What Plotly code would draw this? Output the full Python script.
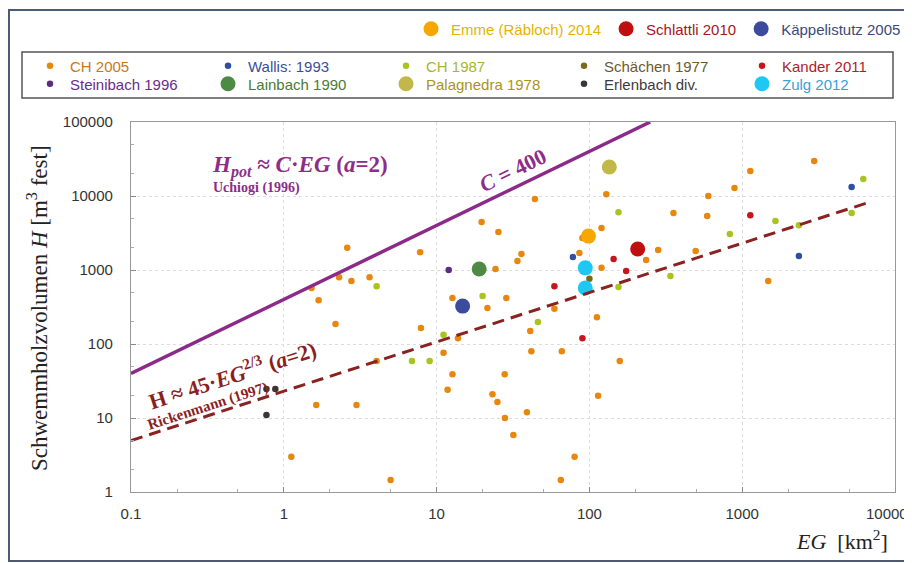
import numpy as np
import plotly.graph_objects as go

# ---------------- data ----------------
ch2005_eg = [2.6, 2.3, 2.77, 3.64, 1.52, 1.69, 129, 44, 19.7, 25.4, 7.8, 35.9, 33.8, 90, 120, 86,
             120, 24.3, 12.7, 28.6, 21.5, 59, 41, 112, 235, 282, 355, 496, 590, 600, 890, 1130,
             1480, 2960, 2.18, 4.05, 1.63, 2.99, 1.12, 5.0, 7.9, 13.8, 11.1, 41.7, 66, 158,
             12.7, 27.9, 11.8, 23.2, 25, 28, 39, 31.8, 114, 80, 65]
ch2005_h = [2000, 800, 710, 800, 570, 390, 10600, 9100, 4450, 3250, 1740, 1650, 1320, 2700, 3700, 1700,
            1070, 1030, 420, 420, 307, 300, 150, 230, 1370, 1860, 5900, 1810, 5370, 10000, 12800, 21800,
            710, 29700, 186, 59, 15, 15, 3, 1.45, 164, 120, 76, 80, 80, 59,
            39, 39, 24, 21, 16.5, 10, 12, 5.9, 20, 3, 1.45]

wallis_eg = [78, 2350, 5200]
wallis_h = [1500, 1540, 13200]

ch1987_eg = [4.05, 155, 20, 46, 155, 339, 830, 1650, 2350, 6200, 5200, 11.1, 6.9, 9.0]
ch1987_h = [605, 6050, 445, 199, 590, 830, 3070, 4590, 4040, 17000, 5900, 133, 59, 59]

schaechen_eg = [100]
schaechen_h = [760]

kander_eg = [144, 174, 59, 90, 1130]
kander_h = [1410, 970, 605, 120, 5500]

steinibach_eg = [12]
steinibach_h = [1000]

lainbach_eg = [19]
lainbach_h = [1030]

palagnedra_eg = [135]
palagnedra_h = [24600]

erlenbach_eg = [0.77, 0.88, 0.77]
erlenbach_h = [24.6, 24.6, 11]

zulg_eg = [94, 94]
zulg_h = [1070, 570]

emme_eg = [98.6]
emme_h = [2870]

schlattli_eg = [207]
schlattli_h = [1920]

kaeppeli_eg = [14.8]
kaeppeli_h = [325]

# reference relations
C_uchiogi = 400          # H = C * EG
k_ricken = 23            # dashed line as drawn: H = k * EG^(2/3)
eg_line = [0.1, 250]
eg_dash = [0.1, 6600]

x_ticks = [0.1, 1, 10, 100, 1000, 10000]
x_ticktext = ["0.1", "1", "10", "100", "1000", ""]   # last label drawn as an annotation (edge)
x_last_label = "10000"
y_ticks = [1, 10, 100, 1000, 10000, 100000]
y_ticktext = ["1", "10", "100", "1000", "10000", "100000"]

# ---------------- figure ----------------
fig = go.Figure()

SMALL = 6.5
BIG = 15

series = [
    # name, x, y, marker colour, text colour, size, legend
    ("CH 2005", ch2005_eg, ch2005_h, "#E8870E", "#C8781A", SMALL, "legend2"),
    ("Wallis: 1993", wallis_eg, wallis_h, "#2F4FA0", "#3A4F9A", SMALL, "legend2"),
    ("CH 1987", ch1987_eg, ch1987_h, "#A9C31F", "#A4B82A", SMALL, "legend2"),
    ("Schächen 1977", schaechen_eg, schaechen_h, "#7B6A1E", "#6B5A30", SMALL, "legend2"),
    ("Kander 2011", kander_eg, kander_h, "#C4161C", "#B0202A", SMALL, "legend2"),
    ("Steinibach 1996", steinibach_eg, steinibach_h, "#5B2C83", "#6A2E86", SMALL, "legend3"),
    ("Lainbach 1990", lainbach_eg, lainbach_h, "#4E8A45", "#4A7A3A", BIG, "legend3"),
    ("Palagnedra 1978", palagnedra_eg, palagnedra_h, "#C2B84A", "#A89420", BIG, "legend3"),
    ("Erlenbach div.", erlenbach_eg, erlenbach_h, "#3B3535", "#3E3A3A", SMALL, "legend3"),
    ("Zulg 2012", zulg_eg, zulg_h, "#1EC8F2", "#3AA0D8", BIG, "legend3"),
    ("Emme (Räbloch) 2014", emme_eg, emme_h, "#F6A800", "#E2B400", BIG, "legend"),
    ("Schlattli 2010", schlattli_eg, schlattli_h, "#C00F0F", "#A8141C", BIG, "legend"),
    ("Käppelistutz 2005", kaeppeli_eg, kaeppeli_h, "#3D4B9E", "#3C4A78", BIG, "legend"),
]

for name, xs, ys, mcol, tcol, size, leg in series:
    fig.add_trace(go.Scatter(
        x=xs, y=ys, mode="markers",
        name=f'<span style="color:{tcol}">{name}</span>',
        marker=dict(color=mcol, size=size, line=dict(width=0)),
        legend=leg,
    ))

xl = np.array(eg_line)
fig.add_trace(go.Scatter(x=xl, y=C_uchiogi * xl, mode="lines",
                         line=dict(color="#8B2A88", width=3.5), showlegend=False))
xd = np.array(eg_dash)
fig.add_trace(go.Scatter(x=xd, y=k_ricken * xd ** (2 / 3), mode="lines",
                         line=dict(color="#8B2222", width=3, dash="12px,7px"), showlegend=False))

# the page adds an 8 px body margin, so the figure is 8 px smaller and
# positions below are given in screen pixels of the 912x563 window
OFF = 8
W, H = 912 - OFF, 563 - OFF
L, R, T, B = 131 - OFF, 17, 122 - OFF, 71
pw, ph = W - L - R, H - T - B


def px(xs):
    return (xs - OFF - L) / pw


def py(ys):
    return (H - B - (ys - OFF)) / ph


serif = "Liberation Serif"
sans = "Liberation Sans"
purple = "#8E2C8A"
darkred = "#8B1E1E"

annotations = [
    dict(x=px(300), y=py(166), text="<i>H<sub>pot</sub></i> ≈ <i>C</i>·<i>EG</i> (<i>a</i>=2)",
         font=dict(family=serif, size=23, color=purple, weight="bold")),
    dict(x=px(256), y=py(188), text="Uchiogi (1996)",
         font=dict(family=serif, size=14, color=purple, weight="bold")),
    dict(x=px(512), y=py(170), text="<i>C</i> = 400", textangle=-25.8,
         font=dict(family=serif, size=22, color=purple, weight="bold")),
    dict(x=px(232), y=py(374), text="H ≈ 45·<i>EG</i><sup>2/3</sup> (<i>a</i>=2)", textangle=-17.9,
         font=dict(family=serif, size=22, color=darkred, weight="bold")),
    dict(x=px(207), y=py(406), text="Rickenmann (1997)", textangle=-17.9,
         font=dict(family=serif, size=15, color=darkred, weight="bold")),
    dict(x=px(37), y=py(308), text="Schwemmholzvolumen <i>H</i> [m<sup>3</sup> fest]", textangle=-90,
         font=dict(family=serif, size=23, color="#222")),
    dict(x=px(890), y=py(540), xanchor="right", text="<i>EG</i>  [km<sup>2</sup>]",
         font=dict(family=serif, size=22, color="#222")),
    dict(x=px(887), y=py(513), text=x_last_label,
         font=dict(family=sans, size=15, color="#333")),
]
for a in annotations:
    a.setdefault("xref", "paper")
    a.setdefault("yref", "paper")
    a.setdefault("showarrow", False)
    a.setdefault("xanchor", "center")
    a.setdefault("yanchor", "middle")

shapes = [
    dict(type="rect", xref="paper", yref="paper", x0=px(9), x1=px(911), y0=py(561), y1=py(10),
         line=dict(color="#4d5a75", width=2)),
    dict(type="rect", xref="paper", yref="paper", x0=px(22), x1=px(893), y0=py(98), y1=py(52),
         line=dict(color="#555", width=1.5)),
]

leg_common = dict(orientation="h", xanchor="left", yanchor="middle", bgcolor="rgba(0,0,0,0)",
                  borderwidth=0, itemsizing="trace", font=dict(family=sans, size=15),
                  itemclick=False, itemdoubleclick=False)

axis_common = dict(type="log", showline=True, linecolor="#999", linewidth=1.2, mirror=True,
                   showgrid=True, gridcolor="#dcdcdc", griddash="dot", gridwidth=1,
                   ticks="inside", ticklen=5, tickcolor="#888",
                   minor=dict(ticks="inside", ticklen=3, tickcolor="#aaa", showgrid=False),
                   tickfont=dict(family=sans, size=15, color="#333"), zeroline=False,
                   automargin=False)

fig.update_layout(
    width=W, height=H,
    margin=dict(l=L, r=R, t=T, b=B, autoexpand=False),
    paper_bgcolor="white", plot_bgcolor="white",
    xaxis=dict(range=[-1, 4], tickvals=x_ticks, ticktext=x_ticktext,
               ticklabelstandoff=8, **axis_common),
    yaxis=dict(range=[0, 5], tickvals=y_ticks, ticktext=y_ticktext,
               ticklabelstandoff=14, **axis_common),
    legend=dict(x=px(411), y=py(29), **leg_common),
    legend2=dict(x=px(30), y=py(66), entrywidth=133, **leg_common),
    legend3=dict(x=px(30), y=py(84), entrywidth=133, **leg_common),
    annotations=annotations,
    shapes=shapes,
    showlegend=True,
)

fig.write_html("out.html")
